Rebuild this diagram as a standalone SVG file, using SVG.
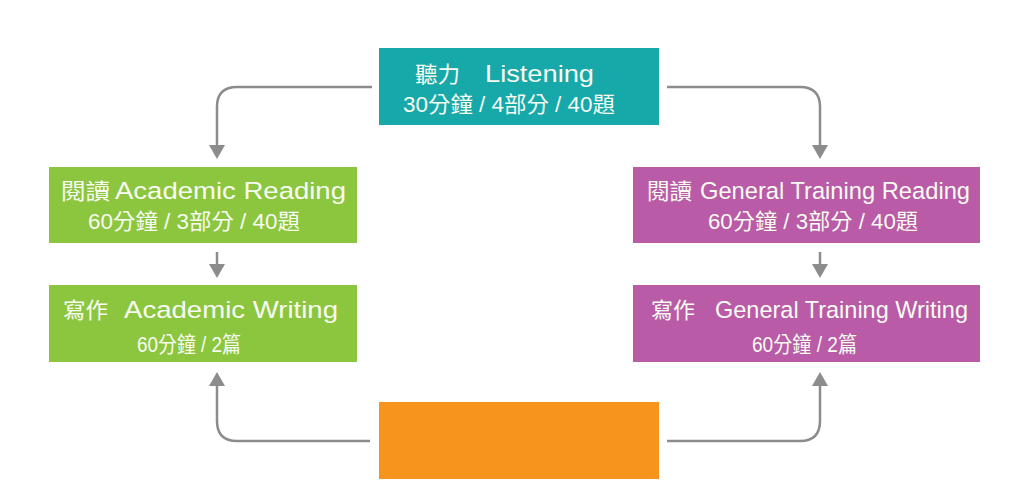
<svg xmlns="http://www.w3.org/2000/svg" width="1009" height="504" viewBox="0 0 1009 504">
<style>
.en{font-family:"Liberation Sans",Arial,sans-serif;font-size:24.5px;fill:#f7fbf2}
.cj{font-family:"Noto Sans CJK TC","Noto Sans CJK SC",sans-serif;font-size:22px;fill:#f7fbf2}
.sub{font-family:"Liberation Sans","Noto Sans CJK TC",sans-serif;font-size:21.5px;fill:#f7fbf2}
.conn{fill:none;stroke:#8c8c8c;stroke-width:2.5}
</style>
<defs>
<marker id="ah" markerUnits="userSpaceOnUse" viewBox="0 0 14 16" markerWidth="14" markerHeight="16" refX="0" refY="8" orient="auto">
<path d="M0,0 L14,8 L0,16 z" fill="#8c8c8c"/>
</marker>
</defs>
<rect width="1009" height="504" fill="#ffffff"/>
<g id="connectors">
<path class="conn" d="M372,87 H237 Q217,87 217,107 V145" marker-end="url(#ah)"/>
<path class="conn" d="M667,87 H800 Q820,87 820,107 V145" marker-end="url(#ah)"/>
<path class="conn" d="M217,252 V264" marker-end="url(#ah)"/>
<path class="conn" d="M820,252 V264" marker-end="url(#ah)"/>
<path class="conn" d="M370,441 H237 Q217,441 217,421 V386" marker-end="url(#ah)"/>
<path class="conn" d="M667,441 H800 Q820,441 820,421 V386" marker-end="url(#ah)"/>
</g>
<g id="listening">
<rect x="379" y="48" width="280" height="77" fill="#17a8aa"/>
<text class="cj" x="415" y="82" textLength="45" lengthAdjust="spacingAndGlyphs">聽力</text>
<text class="en" x="485" y="82" textLength="109" lengthAdjust="spacingAndGlyphs">Listening</text>
<text class="sub" x="403" y="112" textLength="212" lengthAdjust="spacingAndGlyphs">30分鐘 / 4部分 / 40題</text>
</g>
<g id="academic-reading">
<rect x="49" y="167" width="308" height="76" fill="#8cc63f"/>
<text class="cj" x="61" y="199" textLength="49" lengthAdjust="spacingAndGlyphs">閱讀</text>
<text class="en" x="115" y="199" textLength="231" lengthAdjust="spacingAndGlyphs">Academic Reading</text>
<text class="sub" x="88" y="229" textLength="212" lengthAdjust="spacingAndGlyphs">60分鐘 / 3部分 / 40題</text>
</g>
<g id="academic-writing">
<rect x="49" y="285" width="308" height="77" fill="#8cc63f"/>
<text class="cj" x="63" y="318" textLength="45" lengthAdjust="spacingAndGlyphs">寫作</text>
<text class="en" x="124" y="318" textLength="214" lengthAdjust="spacingAndGlyphs">Academic Writing</text>
<text class="sub" x="137" y="352" textLength="104" lengthAdjust="spacingAndGlyphs">60分鐘 / 2篇</text>
</g>
<g id="general-reading">
<rect x="633" y="167" width="347" height="76" fill="#b95ba6"/>
<text class="cj" x="647" y="199" textLength="45" lengthAdjust="spacingAndGlyphs">閱讀</text>
<text class="en" x="700" y="199" textLength="270" lengthAdjust="spacingAndGlyphs">General Training Reading</text>
<text class="sub" x="708" y="229" textLength="210" lengthAdjust="spacingAndGlyphs">60分鐘 / 3部分 / 40題</text>
</g>
<g id="general-writing">
<rect x="633" y="285" width="347" height="77" fill="#b95ba6"/>
<text class="cj" x="651" y="318" textLength="44" lengthAdjust="spacingAndGlyphs">寫作</text>
<text class="en" x="715" y="318" textLength="253" lengthAdjust="spacingAndGlyphs">General Training Writing</text>
<text class="sub" x="752" y="352" textLength="105" lengthAdjust="spacingAndGlyphs">60分鐘 / 2篇</text>
</g>
<g id="orange-box">
<rect x="379" y="402" width="280" height="77" fill="#f7941d"/>
</g>
</svg>
